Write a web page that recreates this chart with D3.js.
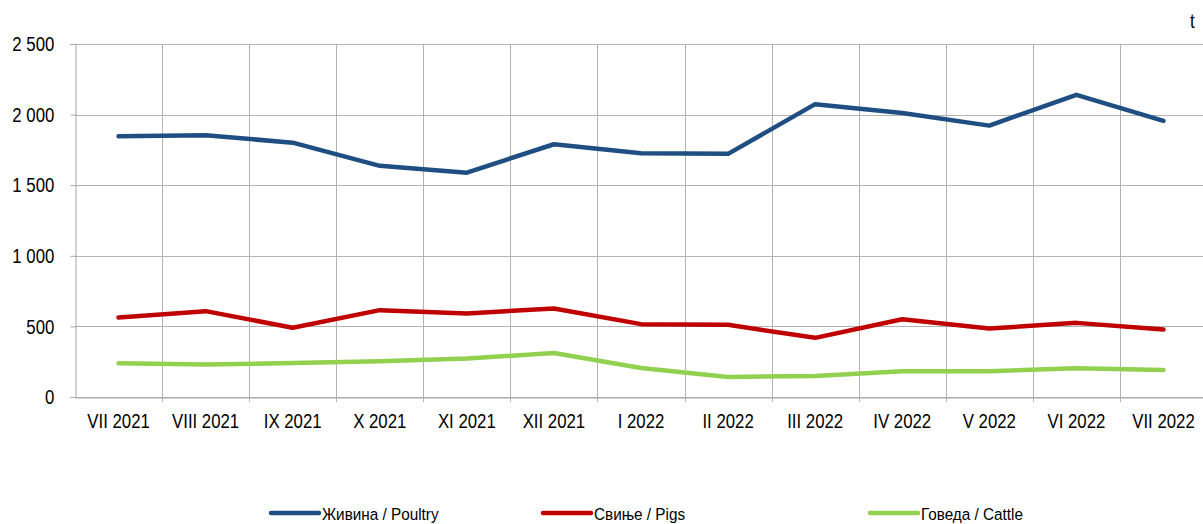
<!DOCTYPE html>
<html>
<head>
<meta charset="utf-8">
<script src="https://cdn.jsdelivr.net/npm/d3@7"></script>
<style>
  body { margin: 0; background: #fff; }
  text { font-family: "Liberation Sans", Arial, sans-serif; fill: #000; }
</style>
</head>
<body>
<div id="main"></div>
<script>
var months = ["VII 2021", "VIII 2021", "IX 2021", "X 2021", "XI 2021", "XII 2021",
    "I 2022", "II 2022", "III 2022", "IV 2022", "V 2022", "VI 2022", "VII 2022"];

var poultry = [1846, 1854, 1801, 1637, 1589, 1790, 1727, 1722, 2074, 2011, 1922, 2140, 1956];
var pigs = [563, 608, 490, 615, 592, 627, 516, 511, 419, 551, 485, 525, 478];
var cattle = [239, 230, 241, 253, 272, 312, 206, 142, 149, 182, 182, 204, 192];

var yTicks = [0, 500, 1000, 1500, 2000, 2500];

var seriesNames = ["Живина / Poultry", "Свиње / Pigs", "Говеда / Cattle"];
var seriesColors = ["#1f4e82", "#c00000", "#92d050"];

var width = 1203, height = 524;
var margin = {top: 44, right: -4, bottom: 127, left: 75};
var narrow = "scale(0.8,1)";

var svg = d3.select("#main")
    .append("svg")
    .attr("width", width)
    .attr("height", height);

var x = d3.scaleBand()
    .domain(months)
    .range([margin.left, width - margin.right])
    .padding(0);

var y = d3.scaleLinear()
    .domain([0, 2500])
    .range([height - margin.bottom, margin.top]);

// horizontal grid
svg.append("g")
    .selectAll("line")
    .data(yTicks)
    .enter()
    .append("line")
    .attr("x1", margin.left)
    .attr("x2", width - margin.right)
    .attr("y1", function(d) { return Math.round(y(d)) + 0.5; })
    .attr("y2", function(d) { return Math.round(y(d)) + 0.5; })
    .attr("stroke", "#b3b3b3")
    .attr("stroke-width", 1);

// vertical grid at category boundaries
svg.append("g")
    .selectAll("line")
    .data(months.slice(1))
    .enter()
    .append("line")
    .attr("x1", function(d) { return Math.round(x(d)) + 0.5; })
    .attr("x2", function(d) { return Math.round(x(d)) + 0.5; })
    .attr("y1", margin.top)
    .attr("y2", height - margin.bottom + 5)
    .attr("stroke", "#b3b3b3")
    .attr("stroke-width", 1);

// y axis
var yAxis = svg.append("g")
    .attr("transform", "translate(" + (margin.left + 0.5) + ",0)")
    .call(d3.axisLeft(y)
        .tickValues(yTicks)
        .tickSize(5)
        .tickPadding(21.5)
        .tickFormat(function(d) { return d3.format(",")(d).replace(",", " "); }));

yAxis.select(".domain").attr("stroke", "#a6a6a6");
yAxis.selectAll(".tick line").attr("stroke", "#a6a6a6");
yAxis.selectAll(".tick text")
    .style("font-size", "21px")
    .attr("transform", narrow);

// x axis
var xAxis = svg.append("g")
    .attr("transform", "translate(0," + (Math.round(y(0)) + 0.5) + ")")
    .call(d3.axisBottom(x).tickSize(0).tickPadding(16));

xAxis.select(".domain").attr("stroke", "#a6a6a6");
xAxis.selectAll(".tick text")
    .style("font-size", "21px")
    .attr("transform", narrow);

// unit label
svg.append("text")
    .attr("transform", "translate(1190,28) " + narrow)
    .style("font-size", "21px")
    .text("t");

var line = d3.line()
    .x(function(d, i) { return x(months[i]) + x.bandwidth() / 2; })
    .y(function(d) { return y(d); })
    .curve(d3.curveLinear);

[poultry, pigs, cattle].forEach(function(values, i) {
    svg.append("path")
        .datum(values)
        .attr("fill", "none")
        .attr("stroke", seriesColors[i])
        .attr("stroke-width", 4.5)
        .attr("stroke-linejoin", "round")
        .attr("stroke-linecap", "round")
        .attr("d", line);
});

// legend
var legendX = [271, 543, 870];
var legend = svg.append("g")
    .selectAll("g")
    .data(seriesNames)
    .enter()
    .append("g")
    .attr("transform", function(d, i) { return "translate(" + legendX[i] + ",513)"; });

legend.append("line")
    .attr("x1", 0)
    .attr("x2", 48)
    .attr("stroke", function(d, i) { return seriesColors[i]; })
    .attr("stroke-width", 4.5)
    .attr("stroke-linecap", "round");

legend.append("text")
    .attr("transform", "translate(51,7) scale(0.9,1)")
    .style("font-size", "17px")
    .text(function(d) { return d; });
</script>
</body>
</html>
